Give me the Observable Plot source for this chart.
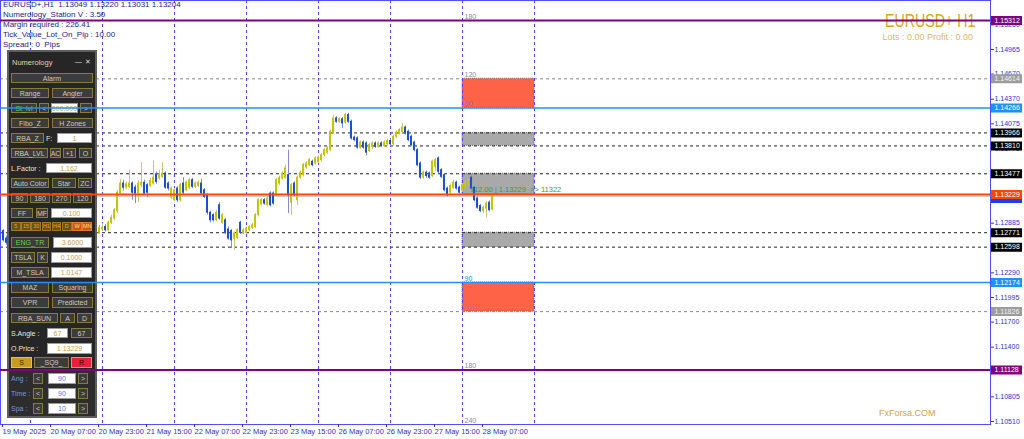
<!DOCTYPE html>
<html><head><meta charset="utf-8">
<script src="https://cdn.jsdelivr.net/npm/d3@7"></script>
<script src="https://cdn.jsdelivr.net/npm/@observablehq/plot@0.6"></script>
<style>
body{margin:0;background:#fff;}
#wrap{position:relative;width:1024px;height:439px;overflow:hidden;font-family:"Liberation Sans",Arial,sans-serif;}
#wrap > svg{position:absolute;left:0;top:0;}
#base{z-index:1} #html{position:absolute;left:0;top:0;width:1024px;height:439px;z-index:2}
#over{z-index:3;pointer-events:none}
.info{position:absolute;left:3px;font-size:8px;color:#1c1c8c;white-space:pre;line-height:10px}
.e{position:absolute;box-sizing:border-box;font-size:7px;display:flex;align-items:center;justify-content:center;white-space:nowrap;line-height:9px}
.b{background:#3c3c3c;border:1px solid #8c7a38;color:#d2cab4}
.g{background:#3c3c3c;border:1px solid #8c7a38;color:#6ccf48}
.i{background:#fff;border:1px solid #9a9a9a;color:#c8a050}
.l{color:#f4e8c4;justify-content:flex-start}
.tf{background:#6a5216;border:1px solid #a07a20;color:#f0a030;font-size:5.5px}
.tfr{background:#c85a14;border:1px solid #e07a30;color:#ffe080;font-size:5.5px}
.s{background:#c89a20;border:1px solid #e0c060;color:#3a2a00}
.r{background:#e8203c;border:1px solid #ff8080;color:#3a0000}
.bl{color:#7a96d8;justify-content:flex-start}
.bi{background:#fff;border:1px solid #9a9a9a;color:#5a7ad0}
</style></head>
<body><div id="wrap"><div id="html"></div></div>
<script>
// ---------------- data ----------------
const bars = [0,1,30,31,32,33,34,35,36,37,38,39,40,41,42,43,44,45,46,47,48,49,50,51,52,53,54,55,56,57,58,59,60,61,62,63,64,65,66,67,68,69,70,71,72,73,74,75,76,77,78,79,80,81,82,83,84,85,86,87,88,89,90,91,92,93,94,95,96,97,98,99,100,101,102,103,104,105,106,107,108,109,110,111,112,113,114,115,116,117,118,119,120,121,122,123,124,125,126,127,128,129,130,131,132,133,134,135,136,137,138,139,140,141,142,143,144,145,146,147,148,149,150,151,152,153,154,155,156,157,158,159,160,161,162,163];
const opens = [1.1279,1.1270,1.1270,1.1274,1.1277,1.1281,1.1284,1.1280,1.1289,1.1294,1.1303,1.1324,1.1336,1.1331,1.1332,1.1336,1.1331,1.1324,1.1334,1.1337,1.1334,1.1333,1.1336,1.1347,1.1342,1.1344,1.1348,1.1336,1.1319,1.1316,1.1330,1.1316,1.1336,1.1328,1.1331,1.1340,1.1332,1.1333,1.1336,1.1328,1.1322,1.1301,1.1298,1.1292,1.1310,1.1289,1.1292,1.1281,1.1279,1.1270,1.1271,1.1289,1.1277,1.1277,1.1280,1.1283,1.1284,1.1298,1.1311,1.1316,1.1310,1.1324,1.1324,1.1322,1.1336,1.1342,1.1343,1.1346,1.1313,1.1336,1.1316,1.1343,1.1346,1.1355,1.1358,1.1362,1.1360,1.1362,1.1364,1.1370,1.1373,1.1376,1.1397,1.1414,1.1410,1.1413,1.1409,1.1418,1.1410,1.1391,1.1390,1.1379,1.1385,1.1384,1.1375,1.1380,1.1384,1.1380,1.1384,1.1381,1.1383,1.1387,1.1383,1.1392,1.1396,1.1398,1.1403,1.1398,1.1392,1.1385,1.1376,1.1360,1.1343,1.1349,1.1348,1.1345,1.1356,1.1366,1.1352,1.1346,1.1330,1.1325,1.1331,1.1337,1.1331,1.1328,1.1332,1.1335,1.1343,1.1331,1.1318,1.1309,1.1303,1.1306,1.1313,1.13049];
const highs = [1.1281,1.1273,1.1280,1.1285,1.1286,1.1288,1.1287,1.1291,1.1298,1.1306,1.1328,1.1341,1.1340,1.1338,1.1352,1.1338,1.1334,1.1339,1.1361,1.1340,1.1336,1.1342,1.1363,1.1350,1.1352,1.1361,1.1350,1.1338,1.1332,1.1330,1.1332,1.1336,1.1343,1.1339,1.1342,1.1342,1.1338,1.1339,1.1341,1.1330,1.1324,1.1303,1.1300,1.1304,1.1313,1.1300,1.1294,1.1284,1.1281,1.1278,1.1282,1.1291,1.1282,1.1284,1.1286,1.1288,1.1300,1.1318,1.1318,1.1318,1.1320,1.1326,1.1326,1.1342,1.1345,1.1350,1.1358,1.1376,1.1336,1.1338,1.1345,1.1351,1.1360,1.1362,1.1366,1.1364,1.1368,1.1369,1.1372,1.1378,1.1380,1.1400,1.1418,1.1416,1.1415,1.1415,1.1420,1.1420,1.1412,1.1393,1.1392,1.1387,1.1387,1.1386,1.1384,1.1386,1.1386,1.1386,1.1386,1.1387,1.1389,1.1389,1.1394,1.1399,1.1402,1.1408,1.1405,1.1400,1.1394,1.1387,1.1378,1.1362,1.1351,1.1351,1.1350,1.1364,1.1366,1.1368,1.1354,1.1348,1.1332,1.1335,1.1340,1.1339,1.1333,1.1336,1.1339,1.1341,1.1346,1.1333,1.1320,1.1311,1.1309,1.1314,1.1315,1.13220];
const lows = [1.1266,1.1262,1.1265,1.1271,1.1275,1.1279,1.1278,1.1278,1.1287,1.1292,1.1300,1.1322,1.1327,1.1329,1.1330,1.1316,1.1312,1.1313,1.1331,1.1322,1.1319,1.1331,1.1334,1.1335,1.1340,1.1342,1.1329,1.1327,1.1317,1.1314,1.1313,1.1314,1.1323,1.1326,1.1329,1.1330,1.1330,1.1331,1.1322,1.1318,1.1298,1.1289,1.1290,1.1290,1.1292,1.1287,1.1275,1.1268,1.1258,1.1256,1.1269,1.1275,1.1275,1.1275,1.1278,1.1281,1.1282,1.1296,1.1309,1.1310,1.1308,1.1308,1.1310,1.1320,1.1334,1.1340,1.1341,1.1300,1.1298,1.1320,1.1310,1.1341,1.1344,1.1353,1.1356,1.1356,1.1358,1.1360,1.1362,1.1368,1.1371,1.1374,1.1395,1.1408,1.1408,1.1402,1.1407,1.1408,1.1388,1.1386,1.1377,1.1377,1.1377,1.1369,1.1373,1.1377,1.1378,1.1378,1.1379,1.1379,1.1381,1.1380,1.1381,1.1390,1.1394,1.1396,1.1394,1.1386,1.1380,1.1374,1.1356,1.1341,1.1341,1.1342,1.1341,1.1343,1.1350,1.1348,1.1342,1.1326,1.1320,1.1323,1.1329,1.1328,1.1323,1.1326,1.1330,1.1333,1.1328,1.1314,1.1305,1.1301,1.1300,1.1295,1.1302,1.13031];
const closes = [1.1268,1.1265,1.1276,1.1282,1.1283,1.1283,1.1280,1.1289,1.1295,1.1304,1.1325,1.1336,1.1331,1.1335,1.1336,1.1325,1.1324,1.1336,1.1337,1.1324,1.1325,1.1339,1.1343,1.1338,1.1347,1.1348,1.1331,1.1330,1.1330,1.1328,1.1316,1.1334,1.1325,1.1337,1.1340,1.1332,1.1336,1.1337,1.1324,1.1320,1.1301,1.1292,1.1292,1.1301,1.1294,1.1298,1.1277,1.1270,1.1268,1.1276,1.1280,1.1277,1.1280,1.1282,1.1284,1.1286,1.1298,1.1316,1.1316,1.1312,1.1318,1.1310,1.1312,1.1340,1.1343,1.1348,1.1354,1.1322,1.1334,1.1322,1.1343,1.1349,1.1358,1.1360,1.1364,1.1358,1.1366,1.1367,1.1370,1.1376,1.1378,1.1398,1.1414,1.1410,1.1413,1.1408,1.1418,1.1410,1.1390,1.1388,1.1379,1.1385,1.1379,1.1373,1.1382,1.1384,1.1380,1.1384,1.1381,1.1385,1.1387,1.1383,1.1392,1.1397,1.1400,1.1403,1.1396,1.1388,1.1382,1.1376,1.1358,1.1343,1.1349,1.1345,1.1343,1.1362,1.1364,1.1350,1.1344,1.1328,1.1322,1.1333,1.1337,1.1330,1.1325,1.1334,1.1337,1.1338,1.1330,1.1316,1.1307,1.1303,1.1307,1.1312,1.1304,1.13204];

const timeTicks = [0,16,32,48,64,80,96,112,128,144,160];
const timeLabels = ["19 May 2025","20 May 07:00","20 May 23:00","21 May 15:00","22 May 07:00","22 May 23:00","23 May 15:00","26 May 07:00","26 May 23:00","27 May 15:00","28 May 07:00"];
const daySeparators = [9,33,57,81,105,129,153,177];
const priceTicks = [1.10510,1.10805,1.11400,1.11700,1.11995,1.12290,1.12885,1.13775,1.14075,1.14370,1.14670,1.14965,1.15260];

const purpleLevels = [1.15312, 1.11128];
const blueLevels = [1.14266, 1.12174];
const currentLevel = [1.13229];
const bidLevel = [1.13204];
const blackDashLevels = [1.13966, 1.13810, 1.13477, 1.12771, 1.12598];
const grayDashLevels = [1.14614, 1.11826];

const redZoneTop = [1.14614, 1.12174];
const redZoneBottom = [1.14266, 1.11826];
const grayZoneTop = [1.13966, 1.13477, 1.12771];
const grayZoneBottom = [1.13810, 1.13229, 1.12598];
const zoneStartBar = 153, zoneEndBar = 177;

const angleLabels = ["180","120","90","90","120","180","240"];
const anglePrices = [1.15312,1.14614,1.14266,1.12174,1.11826,1.11128,1.10474];

const noteText = ["112.00 | 1.13229  >> 11322"];
const notePrice = [1.13229];
const noteBar = [155.6];

const priceDomain = [1.10474, 1.15552];
const barDomain = [-1, 329];

const infoLines = ["EURUSD+,H1  1.13049 1.13220 1.13031 1.13204","Numerology_Station V : 3.50","Margin required : 226.41","Tick_Value_Lot_On_Pip : 10.00","Spread : 0  Pips"];

// ---------------- build ----------------
const candles = bars.map((b,k)=>({bar:b,o:opens[k],h:highs[k],l:lows[k],c:closes[k]}));
const up = candles.filter(d=>d.c>=d.o), dn = candles.filter(d=>d.c<d.o);
const font = "Liberation Sans, Arial, sans-serif";
const common = {width:1024,height:439,marginLeft:0,marginRight:34,marginTop:0,marginBottom:15,
  x:{domain:barDomain,axis:null}, y:{domain:priceDomain,axis:null},
  style:{background:"transparent",fontFamily:font,overflow:"visible"}};

const tags = [
  ...purpleLevels.map(p=>({p,bg:"#800080",fg:"#ffffff"})),
  ...grayDashLevels.map(p=>({p,bg:"#9c9c9c",fg:"#f2f2f2"})),
  ...blueLevels.map(p=>({p,bg:"#1e90ff",fg:"#ffffff"})),
  ...blackDashLevels.map(p=>({p,bg:"#000000",fg:"#ffffff"})),
  ...currentLevel.map(p=>({p,bg:"#ff4500",fg:"#ffffff"}))
];
const xEnd = barDomain[1];
const zones = (tops,bots)=>tops.map((t,i)=>({t,b:bots[i]}));

const base = Plot.plot({...common, marks:[
  Plot.rect(zones(redZoneTop,redZoneBottom),{x1:()=>zoneStartBar,x2:()=>zoneEndBar,y1:"t",y2:"b",fill:"#ff6347",stroke:"#c84a30",strokeDasharray:"1,1"}),
  Plot.rect(zones(grayZoneTop,grayZoneBottom),{x1:()=>zoneStartBar,x2:()=>zoneEndBar,y1:"t",y2:"b",fill:"#a9a9a9",stroke:"#707070",strokeDasharray:"1,1"}),
  Plot.ruleY(grayDashLevels,{stroke:"#8a8a8a",strokeDasharray:"3,3"}),
  Plot.ruleY(blackDashLevels,{stroke:"#222",strokeDasharray:"3,3"}),
  Plot.ruleY(bidLevel,{stroke:"#c8c8c8"}),
  Plot.ruleX(daySeparators,{stroke:"#4646ff",strokeDasharray:"3,3"}),
  Plot.ruleX(up,{x:"bar",y1:"l",y2:"h",stroke:"#c4c47a"}),
  Plot.ruleX(dn,{x:"bar",y1:"l",y2:"h",stroke:"#8888d4"}),
  Plot.rect(up,{x1:d=>d.bar-0.34,x2:d=>d.bar+0.34,y1:"o",y2:"c",fill:"#c6c600",insetTop:-0.5,insetBottom:-0.5}),
  Plot.rect(dn,{x1:d=>d.bar-0.34,x2:d=>d.bar+0.34,y1:"o",y2:"c",fill:"#1d50d0",insetTop:-0.5,insetBottom:-0.5}),
  Plot.text(anglePrices,{x:()=>zoneStartBar,y:d=>d,text:(d,i)=>angleLabels[i],dx:2,dy:-4,textAnchor:"start",fontSize:7,fill:(d,i)=>angleLabels[i]==="90"?"#1e90ff":"#8a8aa2"}),
  Plot.text(notePrice,{x:(d,i)=>noteBar[i],y:d=>d,text:(d,i)=>noteText[i],dy:-5,textAnchor:"start",fontSize:7.5,fill:"#3a9a3a"}),
  Plot.frame({stroke:"#4f4fff"}),
  Plot.axisX({ticks:timeTicks,tickFormat:(d,i)=>timeLabels[i],anchor:"bottom",label:null,tickSize:3,tickPadding:1,textAnchor:"start",dx:-1,fontSize:7.5,color:"#2f2fe0"}),
  Plot.axisY({ticks:priceTicks,tickFormat:d=>d.toFixed(5),anchor:"right",label:null,tickSize:3,tickPadding:1,fontSize:7,color:"#2f2fe0"}),
  Plot.ruleY(bidLevel,{x1:()=>xEnd+0.33,x2:()=>xEnd+10.67,stroke:"#1d3cff",strokeWidth:9,dy:2}),
  Plot.ruleY(tags,{y:"p",x1:()=>xEnd+0.33,x2:()=>xEnd+10.67,stroke:"bg",strokeWidth:9}),
  Plot.text(tags,{x:()=>xEnd,y:"p",text:d=>d.p.toFixed(5),dx:4,textAnchor:"start",fill:"fg",fontSize:7})
]});
base.id="base";

const over = Plot.plot({...common, marks:[
  Plot.ruleY(purpleLevels,{stroke:"#800080",strokeWidth:2}),
  Plot.ruleY(blueLevels,{stroke:"#1e90ff",strokeWidth:1.5}),
  Plot.ruleY(currentLevel,{stroke:"#ff4500",strokeWidth:2})
]});
over.id="over";

const wrap = document.getElementById("wrap");
wrap.insertBefore(base, wrap.firstChild);
wrap.appendChild(over);

// ---------------- HTML overlays ----------------
const H = document.getElementById("html");
function div(cls, text, l, t, w, h, extra){
  const d=document.createElement("div"); d.className=cls; d.textContent=text;
  d.style.left=l+"px"; d.style.top=t+"px"; if(w!=null)d.style.width=w+"px"; if(h!=null)d.style.height=h+"px";
  if(extra) Object.assign(d.style, extra); H.appendChild(d); return d;
}
infoLines.forEach((s,i)=>div("info",s,3,0+i*10));
div("info","EURUSD+ H1",0,12,null,null,{left:"auto",right:"48px",fontSize:"18px",color:"#daa520",lineHeight:"18px",transform:"scaleX(0.79)",transformOrigin:"right center"});
div("info","Lots : 0.00 Profit : 0.00",0,32,null,null,{left:"auto",right:"51px",fontSize:"9px",color:"#d9b866"});
div("info","FxForsa.COM",879,408,null,null,{fontSize:"9px",color:"#d4a540"});

// panel
div("e","",7,50,90,368,{background:"#262626",border:"2px solid #5e5e5e"});
div("e","",9,370,86,46,{background:"#2d2d2d",borderTop:"1px solid #4a4a4a"});
div("e l","Numerology",12,57,50,10,{fontSize:"7.5px",color:"#e0d2a4"});
div("e l","—",75,56,8,10,{color:"#d8d8d8"});
div("e l","✕",85,56,8,10,{color:"#d8d8d8"});
const items = [
 ["Alarm",11,73,93,83,"b"],
 ["Range",11,88,49,98,"b"],["Angler",52,88,93,98,"b"],
 ["St_lvl",11,103,37,113,"g"],["<",39,103,49,113,"b"],["000.000",51,103,78,113,"i"],[">",80,103,92,113,"b"],
 ["Fibo_Z",11,118,49,128,"b"],["H Zones",52,118,93,128,"b"],
 ["RBA_Z",11,133,44,143,"b"],["F:",46,133,56,143,"l"],["1",57,133,92,143,"i"],
 ["RBA_LVL",11,148,48,158,"b"],["AC",50,148,61,158,"b"],["+1",63,148,76,158,"b"],["O",79,148,92,158,"b"],
 ["L.Factor :",11,163,45,173,"l"],["1.162",46,163,92,173,"i"],
 ["Auto Color",11,178,49,188,"b"],["Star",52,178,76,188,"b"],["ZC",78,178,92,188,"b"],
 ["90",11,193,28,203,"b"],["180",30,193,50,203,"b"],["270",52,193,71,203,"b"],["120",73,193,92,203,"b"],
 ["FF",11,208,33,218,"b"],["MF",36,208,48,218,"b"],["0.100",51,208,92,218,"i"],
 ["ENG_TR",11,237,49,248,"g"],["3.6000",53,237,92,248,"i"],
 ["TSLA",11,252,35,263,"b"],["K",37,252,48,263,"b"],["0.1000",51,252,92,263,"i"],
 ["M_TSLA",11,267,49,278,"b"],["1.0147",51,267,92,278,"i"],
 ["MAZ",11,282,49,293,"b"],["Squaring",52,282,93,293,"b"],
 ["VPR",11,297,49,308,"b"],["Predicted",52,297,93,308,"b"],
 ["RBA_SUN",11,313,58,323,"b"],["A",60,313,75,323,"b"],["D",77,313,92,323,"b"],
 ["S.Angle :",11,328,46,338,"l"],["67",47,328,68,338,"i"],["67",71,328,92,338,"b"],
 ["O.Price :",11,343,46,354,"l"],["1.13229",47,343,92,354,"i"],
 ["S",11,357,32,368,"s"],["_SQ9_",34,357,69,368,"b"],["R",71,357,92,368,"r"],
 ["Ang :",11,373,32,384,"bl"],["<",33,373,43,384,"b"],["90",48,373,76,384,"bi"],[">",78,373,88,384,"b"],
 ["Time :",11,388,32,399,"bl"],["<",33,388,43,399,"b"],["90",48,388,76,399,"bi"],[">",78,388,88,399,"b"],
 ["Spa :",11,403,32,414,"bl"],["<",33,403,43,414,"b"],["10",48,403,76,414,"bi"],[">",78,403,88,414,"b"]
];
items.forEach(([t,x1,y1,x2,y2,c])=>div("e "+c,t,x1,y1,x2-x1,y2-y1));
["5","15","30","H1","H4","D","W","MN"].forEach((t,k)=>div("e "+(k>=6?"tfr":"tf"),t,11+k*10.2,222,9.6,9));
</script>
</body></html>
